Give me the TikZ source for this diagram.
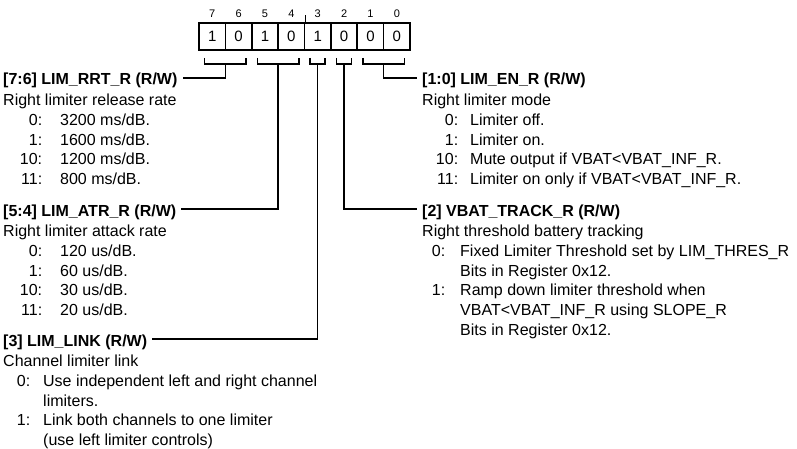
\documentclass[tikz,border=0pt]{standalone}
\usepackage{fontspec}
\setmainfont{Liberation Sans}
\usetikzlibrary{calc}
\newcommand\ritem[4]{\makebox[#1][l]{\makebox[#2][r]{#3}}#4}
\begin{document}
\begin{tikzpicture}[x=1pt,y=-1pt,
  cell/.style={draw, line width=1.6pt, minimum width=26.375pt, minimum height=27pt, inner sep=0pt, font=\fontsize{15}{15}\selectfont},
  bitnum/.style={inner sep=0pt, font=\fontsize{11}{11}\selectfont},
  title/.style={anchor=west, inner sep=0pt, text height=14pt, text depth=0pt, font=\fontsize{16}{19.8}\selectfont\bfseries},
  body/.style={anchor=north west, inner sep=0pt, align=left, font=\fontsize{16}{19.8}\selectfont},
  wire/.style={line width=1.6pt}]
\useasboundingbox (0,0) rectangle (797,449);
% register cells
\foreach \b/\v in {7/1,6/0,5/1,4/0,3/1,2/0,1/0,0/0}{
  \node[cell] (c\b) at ({199+(7-\b+0.5)*26.375}, 36.5) {\v};
  \node[bitnum] (n\b) at ({199+(7-\b+0.5)*26.375}, 14) {\b};
}
\draw[wire] (c4.north east) -- ++(0,-7);
% brackets
\draw[wire] ($(c7.south)+(-7.5,7)$) -- ++(0,6) -| ($(c6.south)+(7.5,7)$);
\draw[wire] ($(c5.south)+(-7.5,7)$) -- ++(0,6) -| ($(c4.south)+(7.5,7)$);
\draw[wire] ($(c3.south)+(-7.5,7)$) -- ++(0,6) -| ($(c3.south)+(7.5,7)$);
\draw[wire] ($(c2.south)+(-7.5,7)$) -- ++(0,6) -| ($(c2.south)+(7.5,7)$);
\draw[wire] ($(c1.south)+(-7.5,7)$) -- ++(0,6) -| ($(c0.south)+(7.5,7)$);
\coordinate (k76) at ($(c7.south)!0.5!(c6.south)+(0,13)$);
\coordinate (k54) at ($(c5.south)!0.5!(c4.south)+(0,13)$);
\coordinate (k3) at ($(c3.south)+(0,13)$);
\coordinate (k2) at ($(c2.south)+(0,13)$);
\coordinate (k10) at ($(c1.south)!0.5!(c0.south)+(0,13)$);
% titles
\node[title] (t76) at (3,78) {[7:6] LIM\_RRT\_R (R/W)};
\node[title] (t54) at (3,209) {[5:4] LIM\_ATR\_R (R/W)};
\node[title] (t3) at (3,339) {[3] LIM\_LINK (R/W)};
\node[title] (t10) at (422,78) {[1:0] LIM\_EN\_R (R/W)};
\node[title] (t2) at (422,209) {[2] VBAT\_TRACK\_R (R/W)};
% bodies
\node[body] (b76) at ($(t76.south west)+(0,6)$) {\rule{0pt}{14pt}Right limiter release rate\\
\ritem{57pt}{39pt}{0:}{3200 ms/dB.}\\
\ritem{57pt}{39pt}{1:}{1600 ms/dB.}\\
\ritem{57pt}{39pt}{10:}{1200 ms/dB.}\\
\ritem{57pt}{39pt}{11:}{800 ms/dB.}};
\node[body] (b54) at ($(t54.south west)+(0,6)$) {\rule{0pt}{14pt}Right limiter attack rate\\
\ritem{57pt}{39pt}{0:}{120 us/dB.}\\
\ritem{57pt}{39pt}{1:}{60 us/dB.}\\
\ritem{57pt}{39pt}{10:}{30 us/dB.}\\
\ritem{57pt}{39pt}{11:}{20 us/dB.}};
\node[body] (b3) at ($(t3.south west)+(0,6)$) {\rule{0pt}{14pt}Channel limiter link\\
\ritem{40pt}{27pt}{0:}{Use independent left and right channel}\\
\hspace*{40pt}limiters.\\
\ritem{40pt}{27pt}{1:}{Link both channels to one limiter}\\
\hspace*{40pt}(use left limiter controls)};
\node[body] (b10) at ($(t10.south west)+(0,6)$) {\rule{0pt}{14pt}Right limiter mode\\
\ritem{48pt}{36pt}{0:}{Limiter off.}\\
\ritem{48pt}{36pt}{1:}{Limiter on.}\\
\ritem{48pt}{36pt}{10:}{Mute output if VBAT<VBAT\_INF\_R.}\\
\ritem{48pt}{36pt}{11:}{Limiter on only if VBAT<VBAT\_INF\_R.}};
\node[body] (b2) at ($(t2.south west)+(0,6)$) {\rule{0pt}{14pt}Right threshold battery tracking\\
\ritem{38pt}{23pt}{0:}{Fixed Limiter Threshold set by LIM\_THRES\_R}\\
\hspace*{38pt}Bits in Register 0x12.\\
\ritem{38pt}{23pt}{1:}{Ramp down limiter threshold when}\\
\hspace*{38pt}VBAT<VBAT\_INF\_R using SLOPE\_R\\
\hspace*{38pt}Bits in Register 0x12.};
% connectors
\draw[wire] (k76) |- ([xshift=5pt]t76.east);
\draw[wire] (k54) |- ([xshift=5pt]t54.east);
\draw[wire] (k3) |- ([xshift=5pt]t3.east);
\draw[wire] (k2) |- ([xshift=-5pt]t2.west);
\draw[wire] (k10) |- ([xshift=-5pt]t10.west);
\end{tikzpicture}
\end{document}
